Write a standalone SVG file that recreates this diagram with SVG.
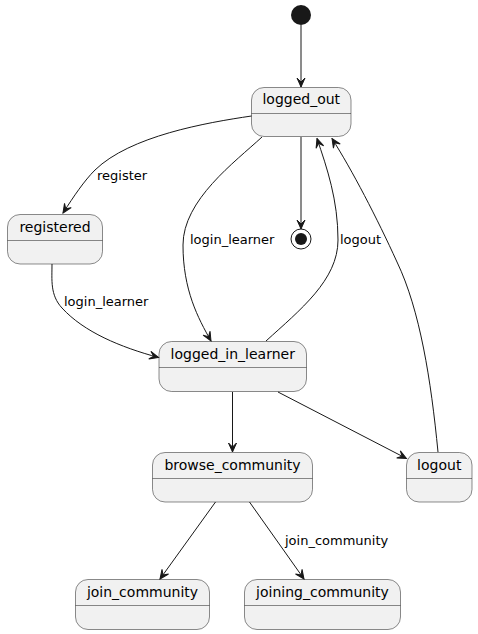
<svg xmlns="http://www.w3.org/2000/svg" width="478" height="634" viewBox="0 0 478 634">
<style>
.st rect{fill:#F1F1F1;stroke:#181818;stroke-width:0.5}
.st line{stroke:#181818;stroke-width:0.5}
.st text{font-family:"DejaVu Sans",sans-serif;font-size:14px;fill:#000;text-anchor:middle}
.e path,.e line{fill:none;stroke:#181818;stroke-width:1;marker-end:url(#ah)}
.lb{font-family:"DejaVu Sans",sans-serif;font-size:13px;fill:#000}
</style>
<defs>
<marker id="ah" viewBox="-10 -5 11 10" refX="0" refY="0" markerWidth="11" markerHeight="10" markerUnits="userSpaceOnUse" orient="auto">
<path d="M0,0 L-9,-4 L-5,0 L-9,4 Z" fill="#181818" stroke="#181818" stroke-width="1"/>
</marker>
</defs>
<rect width="478" height="634" fill="#FFFFFF"/>
<g id="start"><circle cx="301" cy="15" r="10" fill="#181818"/></g>
<g id="end"><circle cx="301" cy="239" r="10" fill="none" stroke="#181818" stroke-width="1"/><circle cx="301" cy="239" r="6" fill="#181818"/></g>
<g id="logged_out" class="st"><rect x="251.5" y="87.5" width="99.5" height="49" rx="12.5"/><line x1="251.5" y1="113.5" x2="351" y2="113.5"/><text x="301.25" y="104">logged_out</text></g>
<g id="registered" class="st"><rect x="7.5" y="214.5" width="95" height="49.5" rx="12.5"/><line x1="7.5" y1="240.5" x2="102.5" y2="240.5"/><text x="55" y="231.5">registered</text></g>
<g id="logged_in_learner" class="st"><rect x="159" y="341.5" width="147.5" height="50" rx="12.5"/><line x1="159" y1="367.5" x2="306.5" y2="367.5"/><text x="232.75" y="358.5">logged_in_learner</text></g>
<g id="logout" class="st"><rect x="406.5" y="452.5" width="65.5" height="49.5" rx="12.5"/><line x1="406.5" y1="478.5" x2="472" y2="478.5"/><text x="439.25" y="469.5">logout</text></g>
<g id="browse_community" class="st"><rect x="152.5" y="452.5" width="160" height="49.5" rx="12.5"/><line x1="152.5" y1="478.5" x2="312.5" y2="478.5"/><text x="232.5" y="469.5">browse_community</text></g>
<g id="join_community" class="st"><rect x="75.5" y="579.5" width="134" height="50" rx="12.5"/><line x1="75.5" y1="605.5" x2="209.5" y2="605.5"/><text x="142.5" y="596.5">join_community</text></g>
<g id="joining_community" class="st"><rect x="244.5" y="579.5" width="156" height="50" rx="12.5"/><line x1="244.5" y1="605.5" x2="400.5" y2="605.5"/><text x="322.5" y="596.5">joining_community</text></g>
<g id="connectors" class="e">
<line x1="301" y1="25" x2="301" y2="87"/>
<path d="M251.5,116 C206,122.7 130,136 95,170 C84,181 74,196 63,213"/>
<path d="M262,137 C235,162 183,200 183,245 C183,290 198,318 211,341"/>
<line x1="301" y1="137" x2="301" y2="229"/>
<path d="M266,341 C300,310 338,280 338,240 C338,200 327,168 317,138.5"/>
<path d="M438,452 C431,380 420,310 397,262 C377,218 352,170 332,138.5"/>
<path d="M52,264 C52,280 50,295 62,308 C84,332 120,347 158.5,357.5"/>
<line x1="232.5" y1="392" x2="232.5" y2="452"/>
<line x1="278" y1="392" x2="406.5" y2="458.5"/>
<line x1="215.5" y1="502" x2="160" y2="579"/>
<line x1="249.5" y1="502" x2="304" y2="579"/>
</g>
<g id="labels">
<text class="lb" x="97" y="180">register</text>
<text class="lb" x="190" y="244">login_learner</text>
<text class="lb" x="340" y="244">logout</text>
<text class="lb" x="64" y="306">login_learner</text>
<text class="lb" x="285" y="545">join_community</text>
</g>
</svg>
